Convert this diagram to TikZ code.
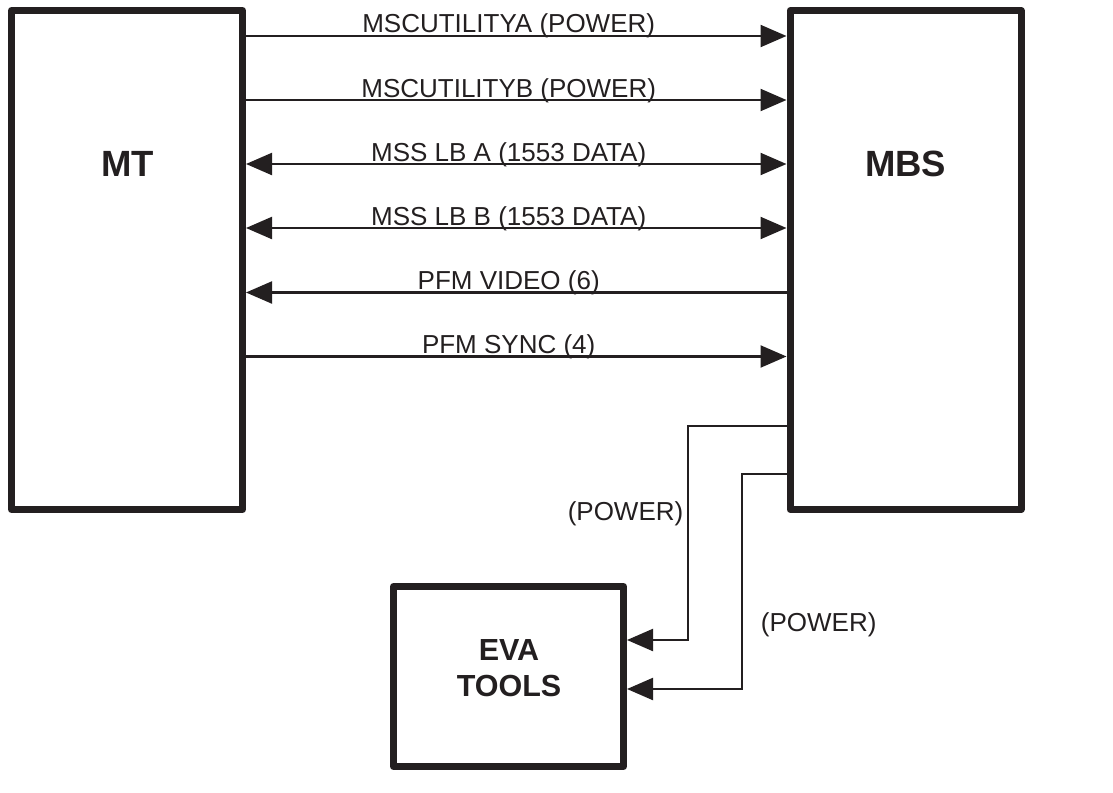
\documentclass[tikz,border=0pt]{standalone}
\usepackage{fontspec}
\setmainfont{Liberation Sans}
\usetikzlibrary{arrows.meta}
\definecolor{ink}{HTML}{231F20}
\begin{document}
\begin{tikzpicture}[x=1pt,y=-1pt,
  blockbox/.style={draw=ink, line width=7pt, line join=round, inner sep=0pt},
  bigtext/.style={font=\fontsize{36.5}{40}\selectfont\bfseries, text=ink, inner sep=0pt},
  evatext/.style={font=\fontsize{30.5}{36}\selectfont\bfseries, text=ink, inner sep=0pt, align=center},
  wire/.style={draw=ink, line width=2.2pt},
  tipR/.style={-{Triangle[length=26pt,width=22pt]}},
  tipL/.style={{Triangle[length=26pt,width=22pt]}-},
  tipB/.style={{Triangle[length=26pt,width=22pt]}-{Triangle[length=26pt,width=22pt]}},
  lbl/.style={font=\fontsize{26}{30}\selectfont, text=ink, anchor=base, yshift=3pt, inner sep=0pt, pos=0.486},
  plbl/.style={font=\fontsize{26}{30}\selectfont, text=ink, inner sep=0pt}
]
\useasboundingbox (0,0) rectangle (1113,792);

% blocks
\node[blockbox, minimum width=231pt, minimum height=499pt] (MT) at (127,260) {};
\node[bigtext, anchor=base] (MTlabel) at (127.5,176.5) {MT};
\node[blockbox, minimum width=231pt, minimum height=499pt] (MBS) at (905.5,260) {};
\node[bigtext, anchor=base] (MBSlabel) at (905.7,176.5) {MBS};
\node[blockbox, minimum width=230pt, minimum height=180pt] (EVA) at (508.5,676.5) {};
\node[evatext] (EVAlabel) at (509,668.4) {EVA\\TOOLS};

% row levels
\coordinate (r1) at (0,36);
\coordinate (r2) at (0,100);
\coordinate (r3) at (0,164);
\coordinate (r4) at (0,228);
\coordinate (r5) at (0,292.5);
\coordinate (r6) at (0,356.5);

\draw[wire, tipR] (MT.east |- r1) -- node[lbl] {MSCUTILITYA (POWER)} (MBS.west |- r1);
\draw[wire, tipR] (MT.east |- r2) -- node[lbl] {MSCUTILITYB (POWER)} (MBS.west |- r2);
\draw[wire, tipB] (MT.east |- r3) -- node[lbl] {MSS LB A (1553 DATA)} (MBS.west |- r3);
\draw[wire, tipB] (MT.east |- r4) -- node[lbl] {MSS LB B (1553 DATA)} (MBS.west |- r4);
\draw[wire, tipL] (MT.east |- r5) -- node[lbl] {PFM VIDEO (6)} (MBS.west |- r5);
\draw[wire, tipR] (MT.east |- r6) -- node[lbl] {PFM SYNC (4)} (MBS.west |- r6);

% power feeds to EVA tools
\coordinate (p1) at (688,426);
\coordinate (q1) at (0,640);
\coordinate (p2) at (742,474);
\coordinate (q2) at (0,689);
\draw[wire, tipR] (MBS.west |- p1) -- (p1) |- (EVA.east |- q1);
\draw[wire, tipR] (MBS.west |- p2) -- (p2) |- (EVA.east |- q2);

\node[plbl, anchor=base east] (pw1) at (683.5,520) {(POWER)};
\node[plbl, anchor=base west] (pw2) at (760.7,631.5) {(POWER)};
\end{tikzpicture}
\end{document}
